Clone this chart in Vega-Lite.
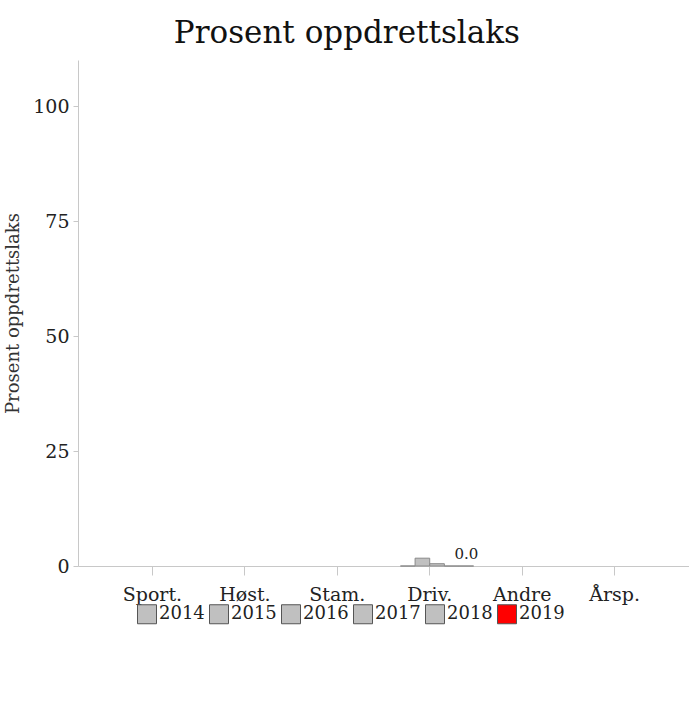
{
  "$schema": "https://vega.github.io/schema/vega-lite/v6.json",
  "width": 611,
  "height": 506,
  "padding": {"left": 4, "top": 18, "right": 0, "bottom": 5},
  "background": "white",
  "title": {
    "text": "Prosent oppdrettslaks",
    "font": "DejaVu Serif",
    "fontSize": 31,
    "fontWeight": "normal",
    "color": "#111",
    "anchor": "middle",
    "frame": "bounds",
    "offset": 10
  },
  "config": {
    "view": {"stroke": null},
    "font": "DejaVu Serif",
    "axis": {
      "grid": false,
      "domainColor": "#c8c8c8",
      "tickColor": "#c8c8c8",
      "labelFont": "DejaVu Serif",
      "labelFontSize": 19,
      "labelColor": "#222",
      "titleFont": "DejaVu Serif",
      "titleFontWeight": "normal",
      "titleFontSize": 18,
      "titleColor": "#333"
    },
    "legend": {
      "labelFont": "DejaVu Serif",
      "labelFontSize": 18,
      "labelColor": "#222"
    }
  },
  "data": {
    "values": [
      {"kategori": "Driv.", "aar": "2015", "verdi": 0},
      {"kategori": "Driv.", "aar": "2016", "verdi": 1.7},
      {"kategori": "Driv.", "aar": "2017", "verdi": 0.5},
      {"kategori": "Driv.", "aar": "2018", "verdi": 0},
      {"kategori": "Driv.", "aar": "2019", "verdi": 0}
    ]
  },
  "encoding": {
    "x": {
      "field": "kategori",
      "type": "nominal",
      "sort": null,
      "scale": {"domain": ["Sport.", "Høst.", "Stam.", "Driv.", "Andre", "Årsp."], "paddingInner": 0.05, "paddingOuter": 0.33},
      "axis": {"title": null, "labelAngle": 0, "tickSize": 9, "labelPadding": 10, "ticks": true}
    },
    "xOffset": {
      "field": "aar",
      "type": "nominal",
      "scale": {"domain": ["2014", "2015", "2016", "2017", "2018", "2019"], "paddingInner": 0, "paddingOuter": 0}
    },
    "y": {
      "field": "verdi",
      "type": "quantitative",
      "scale": {"domain": [0, 110], "nice": false},
      "axis": {"title": "Prosent oppdrettslaks", "values": [0, 25, 50, 75, 100], "tickSize": 5, "labelPadding": 4, "titlePadding": 10}
    }
  },
  "layer": [
    {
      "mark": {"type": "bar", "stroke": "#8a8a8a", "strokeWidth": 1},
      "encoding": {
        "color": {
          "field": "aar",
          "type": "nominal",
          "scale": {"domain": ["2014", "2015", "2016", "2017", "2018", "2019"], "range": ["#c0c0c0", "#c0c0c0", "#c0c0c0", "#c0c0c0", "#c0c0c0", "#ff0000"]},
          "legend": {
            "title": null,
            "orient": "none",
            "direction": "horizontal",
            "columns": 6,
            "legendX": 59,
            "legendY": 544,
            "symbolType": "square",
            "symbolSize": 361,
            "symbolStrokeColor": "#555",
            "symbolStrokeWidth": 1,
            "columnPadding": 2,
            "labelOffset": 2
          }
        }
      }
    },
    {
      "transform": [{"filter": "datum.aar == '2019'"}],
      "mark": {"type": "text", "dy": -12, "fontSize": 15, "color": "#222", "font": "DejaVu Serif"},
      "encoding": {
        "text": {"field": "verdi", "type": "quantitative", "format": ".1f"}
      }
    }
  ]
}
